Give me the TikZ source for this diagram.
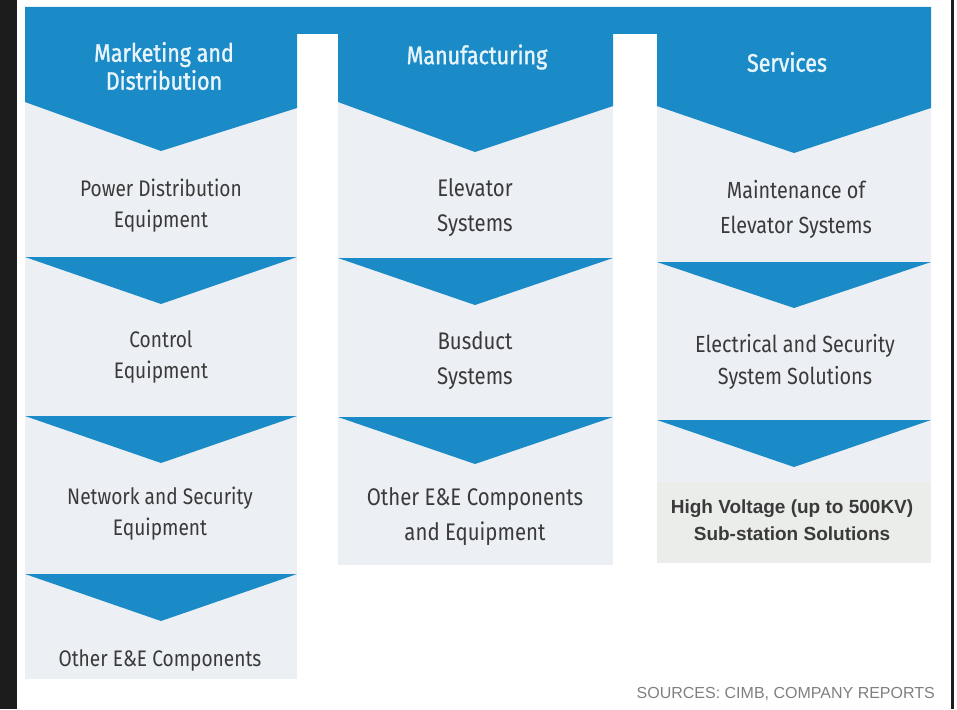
\documentclass[tikz,border=0pt]{standalone}
\usepackage{fontspec}
\setmainfont{Fira Sans}[FakeStretch=0.85]
\newfontfamily\headfont{Fira Sans}[FakeStretch=0.85, FakeBold=1.2]
\newfontfamily\arialish{Liberation Sans}
\usepackage{xcolor}
\usetikzlibrary{positioning}
\definecolor{chevblue}{HTML}{1A8BC7}
\definecolor{cellgray}{HTML}{ECEFF3}
\definecolor{cellgrayb}{HTML}{EBEDEA}
\definecolor{celltext}{HTML}{3A3A3A}
\definecolor{headtext}{HTML}{EAF5FB}
\definecolor{srcgray}{HTML}{808080}
\definecolor{framedark}{HTML}{1C1C1C}

\begin{document}
\begin{tikzpicture}[
  x=1pt, y=-1pt,
  headtxt/.style={text=headtext, align=center, inner sep=0pt,
                  font=\headfont\fontsize{25.3}{28}\selectfont},
  celltxt/.style={text=celltext, align=center, inner sep=0pt,
                  font=\fontsize{24}{35}\selectfont},
  smalltxt/.style={celltxt, font=\fontsize{22.5}{31}\selectfont},
  chevron/.style={fill=chevblue},
  panel/.style={fill=cellgray}
]
\useasboundingbox (0,0) rectangle (957,709);
\fill[white] (0,0) rectangle (957,709);

% ---------------- Frame ----------------
\fill[framedark] (0,0) rectangle (17,709);
\fill[framedark] (951,0) rectangle (954,709);

% ---------------- Column panels ----------------
\fill[panel] (25,100) rectangle (297,679);
\fill[panel] (338,100) rectangle (613,565);
\fill[panel] (657,100) rectangle (931,563);
\fill[cellgrayb] (657,482) rectangle (931,563);

% ---------------- Header band ----------------
\fill[chevron] (25,7) -- (931,7) -- (931,34) -- (931,108) -- (794,153) -- (657,106)
  -- (657,34) -- (613,34) -- (613,106) -- (475,152) -- (338,102) -- (338,34)
  -- (297,34) -- (297,108) -- (161,151) -- (25,102) -- cycle;

% ---------------- Chevrons ----------------
\fill[chevron] (25,257) -- (297,257) -- (161,304) -- cycle;
\fill[chevron] (25,416) -- (297,416) -- (161,463) -- cycle;
\fill[chevron] (25,574) -- (297,574) -- (161,621) -- cycle;

\fill[chevron] (338,258) -- (613,258) -- (475,305) -- cycle;
\fill[chevron] (338,417) -- (613,417) -- (475,464) -- cycle;

\fill[chevron] (657,262) -- (931,262) -- (794,308) -- cycle;
\fill[chevron] (657,420) -- (931,420) -- (794,467) -- cycle;

% ---------------- Headers ----------------
\node[headtxt] (mkt) at (164,66) {Marketing and\\Distribution};
\node[headtxt] (mfg) at (477,57) {Manufacturing};
\node[headtxt] (svc) at (787,62) {Services};

% ---------------- Marketing and Distribution ----------------
\node[smalltxt] (pde) at (161,206) {Power Distribution\\Equipment};
\node[smalltxt] (ctl) at (161,357) {Control\\Equipment};
\node[smalltxt] (nse) at (160,514) {Network and Security\\Equipment};
\node[smalltxt] (oec) at (160,660) {Other E\&E Components};

% ---------------- Manufacturing ----------------
\node[celltxt] (elv) at (475,208) {Elevator\\Systems};
\node[celltxt] (bus) at (475,361) {Busduct\\Systems};
\node[celltxt] (oee) at (475,517) {Other E\&E Components\\and Equipment};

% ---------------- Services ----------------
\node[celltxt, font=\fontsize{23.3}{35}\selectfont] (mnt) at (796,209)
  {Maintenance of\\Elevator Systems};
\node[celltxt, font=\fontsize{23.3}{32}\selectfont] (ess) at (795,362)
  {Electrical and Security\\System Solutions};
\node[celltxt, font=\arialish\bfseries\fontsize{19}{27}\selectfont] (hvs) at (792,520)
  {High Voltage (up to 500KV)\\Sub-station Solutions};

% ---------------- Source line ----------------
\node[anchor=east, text=srcgray, inner sep=0pt,
      font=\arialish\fontsize{16}{18}\selectfont] (src) at (935,694)
  {SOURCES: CIMB, COMPANY REPORTS};

\end{tikzpicture}
\end{document}
